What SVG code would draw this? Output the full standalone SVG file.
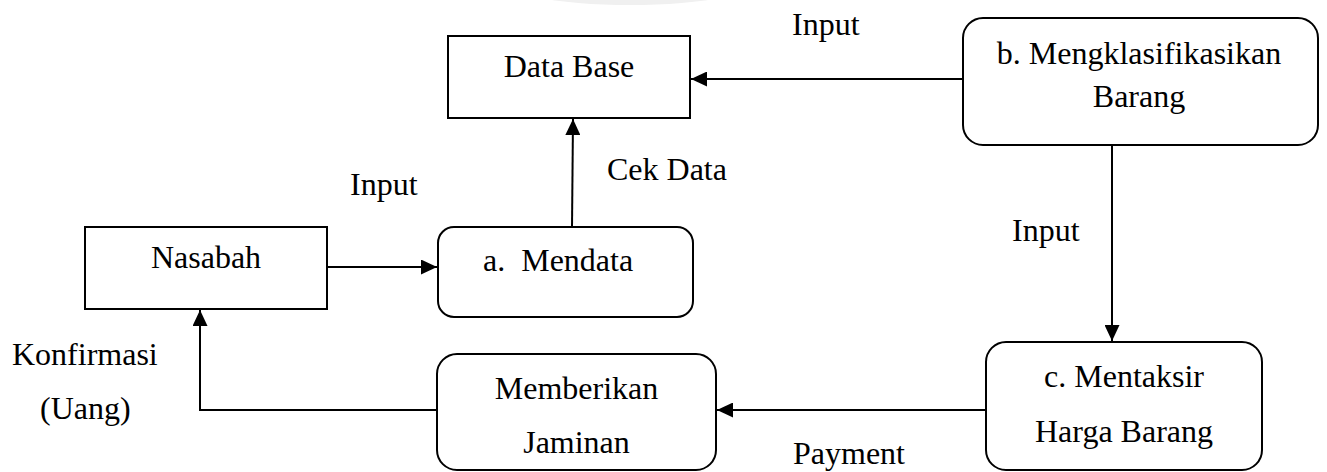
<svg xmlns="http://www.w3.org/2000/svg" width="1327" height="472" viewBox="0 0 1327 472">
<style>
.box{fill:#fff;stroke:#000;stroke-width:2}
.t{font-family:"Liberation Serif","Times New Roman","DejaVu Serif",serif;font-size:32px;fill:#000}
.c{text-anchor:middle}
.ln{fill:none;stroke:#000;stroke-width:2}
</style>
<defs>
<marker id="ah" markerUnits="userSpaceOnUse" markerWidth="17" markerHeight="15" refX="16" refY="7.5" orient="auto">
<path d="M0,0 L16,7.5 L0,15 z" fill="#000"/>
</marker>
</defs>
<rect width="1327" height="472" fill="#fff"/>
<ellipse cx="630" cy="-22" rx="135" ry="27" fill="#f0f0f0"/>
<g id="connectors">
<line class="ln" x1="963" y1="79" x2="691" y2="79" marker-end="url(#ah)"/>
<line class="ln" x1="572" y1="227" x2="573" y2="119" marker-end="url(#ah)"/>
<line class="ln" x1="327" y1="267" x2="437" y2="267" marker-end="url(#ah)"/>
<line class="ln" x1="1112" y1="145" x2="1112" y2="341" marker-end="url(#ah)"/>
<line class="ln" x1="986" y1="410" x2="717" y2="410" marker-end="url(#ah)"/>
<path class="ln" d="M437,410 H200 V310" marker-end="url(#ah)"/>
</g>
<g id="labels">
<text class="t" font-family="Liberation Serif, serif" x="792" y="35">Input</text>
<text class="t" font-family="Liberation Serif, serif" x="350" y="195">Input</text>
<text class="t" font-family="Liberation Serif, serif" x="607" y="180">Cek Data</text>
<text class="t" font-family="Liberation Serif, serif" x="1012" y="241">Input</text>
<text class="t" font-family="Liberation Serif, serif" x="793" y="464">Payment</text>
<text class="t" font-family="Liberation Serif, serif" x="12" y="365">Konfirmasi</text>
<text class="t" font-family="Liberation Serif, serif" x="40" y="419">(Uang)</text>
</g>
<g id="database">
<rect class="box" x="448" y="36" width="242" height="82"/>
<text class="t c" font-family="Liberation Serif, serif" x="569" y="77">Data Base</text>
</g>
<g id="klasifikasi">
<rect class="box" x="963" y="18" width="355" height="127" rx="20"/>
<text class="t c" font-family="Liberation Serif, serif" x="1139" y="64">b. Mengklasifikasikan</text>
<text class="t c" font-family="Liberation Serif, serif" x="1139" y="107">Barang</text>
</g>
<g id="nasabah">
<rect class="box" x="85" y="227" width="242" height="82"/>
<text class="t c" font-family="Liberation Serif, serif" x="206" y="268">Nasabah</text>
</g>
<g id="mendata">
<rect class="box" x="438" y="227" width="255" height="90" rx="16"/>
<text class="t" font-family="Liberation Serif, serif" x="483" y="271" xml:space="preserve">a.  Mendata</text>
</g>
<g id="mentaksir">
<rect class="box" x="986" y="342" width="276" height="128" rx="20"/>
<text class="t c" font-family="Liberation Serif, serif" x="1124" y="387">c. Mentaksir</text>
<text class="t c" font-family="Liberation Serif, serif" x="1124" y="442">Harga Barang</text>
</g>
<g id="memberikan">
<rect class="box" x="437" y="354" width="279" height="116" rx="20"/>
<text class="t c" font-family="Liberation Serif, serif" x="576.5" y="399">Memberikan</text>
<text class="t c" font-family="Liberation Serif, serif" x="576.5" y="453">Jaminan</text>
</g>
</svg>
